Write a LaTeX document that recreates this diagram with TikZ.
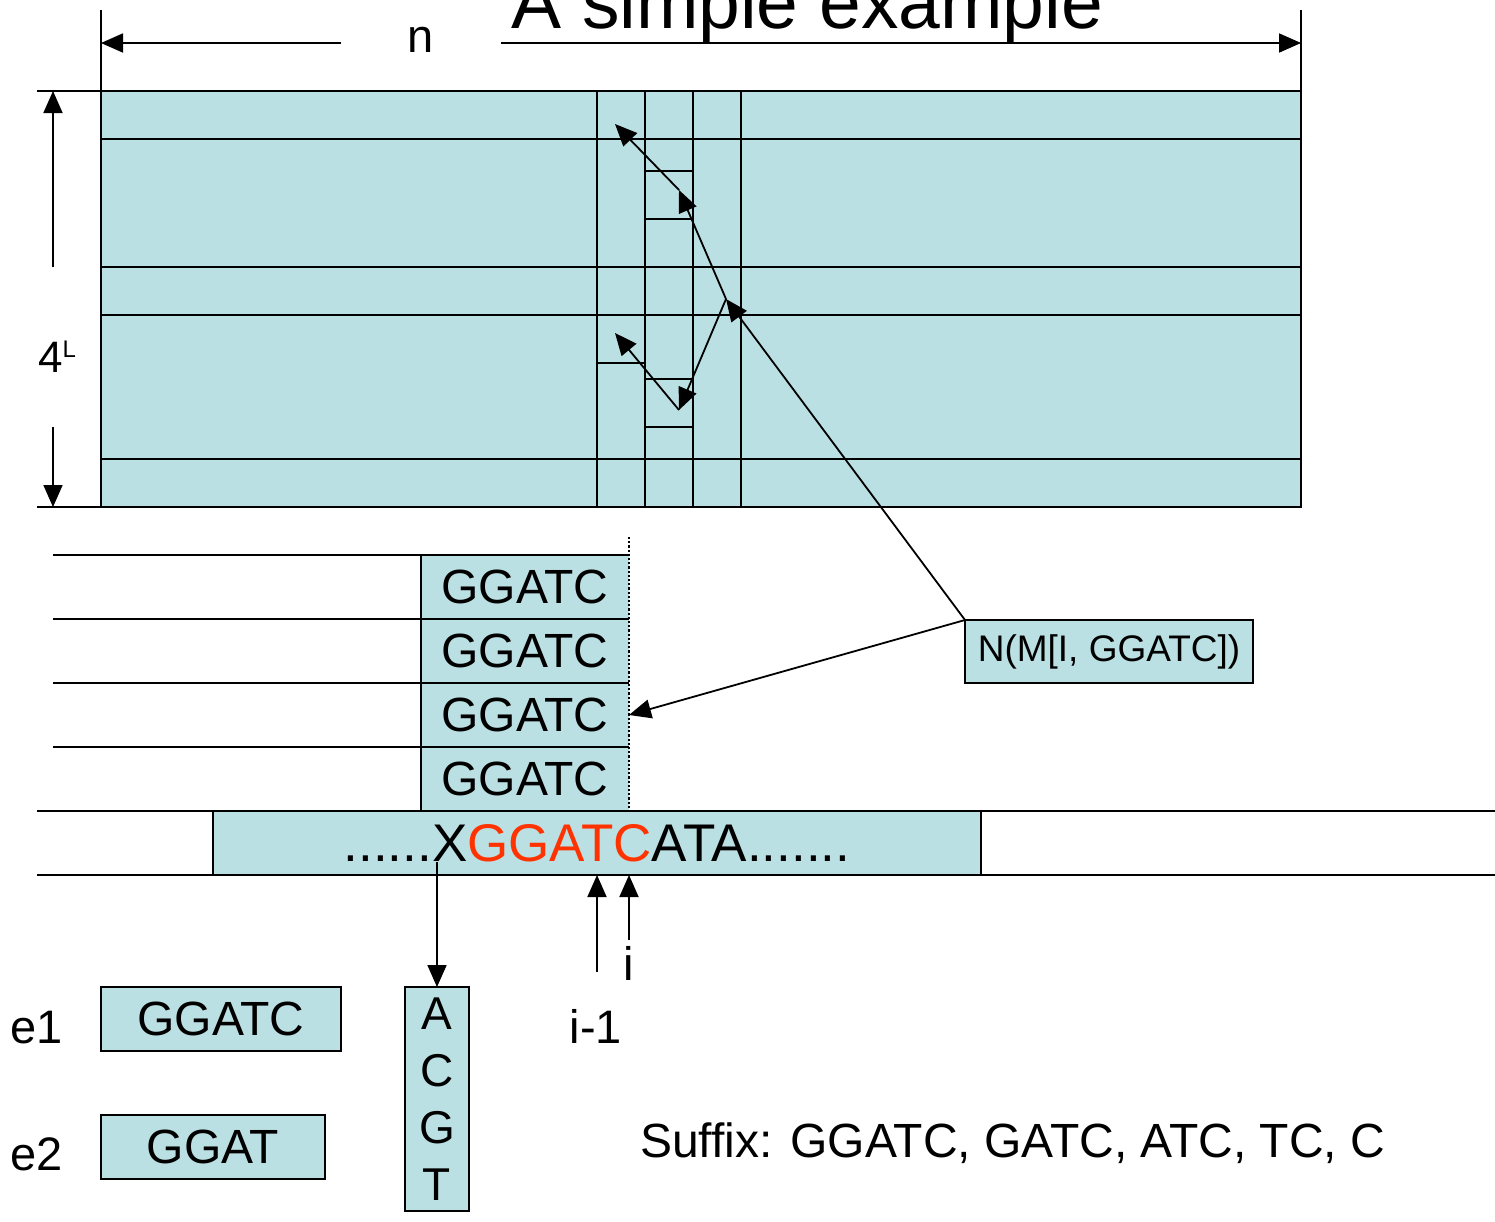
\documentclass[tikz,border=0pt]{standalone}
\usepackage{fontspec}
\setmainfont{Liberation Sans}
\usetikzlibrary{arrows.meta}
\definecolor{boxfill}{RGB}{187,224,227}
\definecolor{seqred}{RGB}{255,51,0}
\begin{document}
\begin{tikzpicture}[x=1pt,y=-1pt,
  ln/.style={line width=2pt},
  arr/.style={line width=1.8pt,-{Triangle[length=22pt,width=19pt]}},
  cellbox/.style={draw, line width=2pt, fill=boxfill, inner sep=0pt, outer sep=0pt, anchor=north west},
  fillbox/.style={fill=boxfill, inner sep=0pt, outer sep=0pt, anchor=north west},
  txt/.style={font=\fontsize{47}{56}\selectfont},
  stacktxt/.style={font=\fontsize{48}{56}\selectfont},
]
\useasboundingbox (0,0) rectangle (1495,1221);

% ---------- title and n dimension ----------
\node[anchor=base west, inner sep=0pt, font=\fontsize{75}{80}\selectfont] (title) at (511,28) {A simple example};
\coordinate (nl) at (101,43);
\coordinate (nr) at (1301,43);
\draw[ln] (101,10) -- (101,91);
\draw[ln] (1301,10) -- (1301,91);
\draw[arr] (341,43) -- (nl);
\draw[arr] (501,43) -- (nr);
\node[anchor=base, inner sep=0pt, txt] (nlab) at (421,52) {n};

% ---------- big grid ----------
\fill[boxfill] (101,91) rectangle (1301,507);
\foreach \yy in {139,267,315,459} { \draw[ln] (101,\yy) -- (1301,\yy); }
\foreach \xx in {597,645,693,741} { \draw[ln] (\xx,91) -- (\xx,507); }
\draw[ln] (101,91) rectangle (1301,507);
\draw[ln] (37,91) -- (101,91);
\draw[ln] (37,507) -- (101,507);

% small highlighted boxes
\node[cellbox, minimum width=48pt, minimum height=48pt] (sb1) at (645,171) {};
\node[cellbox, minimum width=48pt, minimum height=48pt] (sb2) at (597,315) {};
\node[cellbox, minimum width=48pt, minimum height=48pt] (sb3) at (645,379) {};

% 4^L dimension
\coordinate (ltop) at (53,91);
\coordinate (lbot) at (53,507);
\draw[arr] (53,267) -- (ltop);
\draw[arr] (53,427) -- (lbot);
\node[anchor=base west, inner sep=0pt, font=\fontsize{44}{50}\selectfont] (four) at (38,372) {4\raisebox{15pt}{\fontsize{24}{24}\selectfont L}};

% path arrows in the grid
\coordinate (A) at (726,299);
\coordinate (B) at (679,190);
\coordinate (C) at (615,124);
\coordinate (D) at (679,410);
\coordinate (E) at (615,333);
\draw[arr] (A) -- (B);
\draw[arr] (B) -- (C);
\draw[arr] (A) -- (D);
\draw[arr] (D) -- (E);

% ---------- GGATC stack ----------
\foreach \i/\yy in {1/555,2/619,3/683,4/747} {
  \node[fillbox, minimum width=208pt, minimum height=64pt, stacktxt] (g\i) at (421,\yy) {GGATC};
  \draw[ln] (53,\yy) -- (g\i.north west);
  \draw[ln] (g\i.north east) -- (g\i.north west) -- (g\i.south west) -- (g\i.south east);
}
\draw[line width=2.2pt, dotted] (629,537) -- (629,811);

% ---------- N box ----------
\node[cellbox, minimum width=288pt, minimum height=63pt, font=\fontsize{37}{44}\selectfont] (nb) at (965,620) {N(M[I, GGATC])};
\draw[arr] (nb.north west) -- (A);
\draw[arr] (nb.north west) -- (g3.east);

% ---------- sequence band ----------
\draw[ln] (37,811) -- (1495,811);
\draw[ln] (37,875) -- (1495,875);
\node[cellbox, minimum width=768pt, minimum height=64pt, font=\fontsize{53}{60}\selectfont] (seq) at (213,811) {......X{\color{seqred}GGATC}ATA.......};

% i and i-1 arrows
\coordinate (im1) at (597,972);
\coordinate (ii) at (629,940);
\draw[arr] (im1) -- (im1 |- seq.south);
\draw[arr] (ii) -- (ii |- seq.south);
\node[anchor=base, inner sep=0pt, txt] (ilab) at (629,980) {i};
\node[anchor=base, inner sep=0pt, txt] (im1lab) at (596,1043) {i-1};

% ---------- ACGT column ----------
\node[cellbox, minimum width=64pt, minimum height=224pt, align=center, font=\fontsize{46}{57}\selectfont] (acgt) at (405,987) {A\\C\\G\\T};
\coordinate (xs) at (437,862);
\draw[arr] (xs) -- (acgt.north);

% ---------- e1 / e2 ----------
\node[anchor=base west, inner sep=0pt, txt] (e1lab) at (10,1043) {e1};
\node[anchor=base west, inner sep=0pt, txt] (e2lab) at (10,1170) {e2};
\node[cellbox, minimum width=240pt, minimum height=64pt, stacktxt] (e1) at (101,987) {GGATC};
\node[cellbox, minimum width=224pt, minimum height=64pt, stacktxt] (e2) at (101,1115) {GGAT};

% ---------- suffix text ----------
\node[anchor=base west, inner sep=0pt, font=\fontsize{48}{56}\selectfont] (suffix) at (640,1157) {Suffix: GGATC, GATC, ATC, TC, C};
\end{tikzpicture}
\end{document}
